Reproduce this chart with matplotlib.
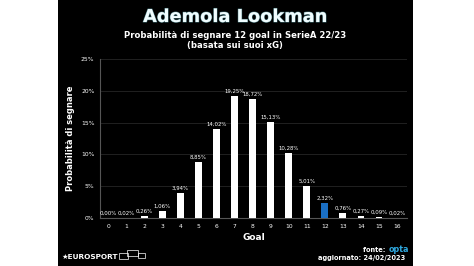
import matplotlib
matplotlib.use("Agg")
import matplotlib.pyplot as plt
from matplotlib.patches import Rectangle
import matplotlib.patheffects as pe

goals = list(range(17))
probs = [0.00, 0.02, 0.26, 1.06, 3.94, 8.85, 14.02, 19.25, 18.72, 15.13,
         10.28, 5.01, 2.32, 0.76, 0.27, 0.09, 0.02]
highlight = 12
yticks = [0, 5, 10, 15, 20, 25]

W, H = 474, 266
fig = plt.figure(figsize=(W / 100, H / 100), dpi=100, facecolor="white")
bg = fig.add_axes([58 / W, 0, (413 - 58) / W, 1], zorder=-5)
bg.set_facecolor("black")
bg.set_axis_off()
bg.add_patch(Rectangle((0, 0), 1, 1, transform=bg.transAxes, facecolor="black",
                       edgecolor="none"))

ax = fig.add_axes([100 / W, (266 - 218) / H, (407 - 100) / W, (218 - 59) / H], zorder=1)
ax.set_facecolor("black")
colors = ["#1a6fc4" if g == highlight else "white" for g in goals]
ax.bar(goals, probs, width=0.38, color=colors, zorder=3)
for g, p in zip(goals, probs):
    ax.text(g, p + 0.35, f"{p:.2f}%".replace(".", ","), ha="center", va="bottom",
            color="white", fontsize=3.9, zorder=4)

ax.set_xlim(-0.45, 16.55)
ax.set_ylim(0, 25)
ax.set_yticks(yticks)
ax.set_yticklabels([f"{t}%" for t in yticks], color="white", fontsize=4.3)
ax.set_xticks(goals)
ax.set_xticklabels([str(g) for g in goals], color="white", fontsize=4.3)
ax.tick_params(length=0, pad=4)
ax.grid(axis="y", color="#262626", linewidth=0.6, zorder=0)
for s in ["top", "right"]:
    ax.spines[s].set_visible(False)
for s in ["left", "bottom"]:
    ax.spines[s].set_color("#555555")
    ax.spines[s].set_linewidth(0.8)
ax.set_xlabel("Goal", color="white", fontsize=6.5, fontweight="bold", labelpad=3)
ax.set_ylabel("Probabilità di segnare", color="white", fontsize=6, fontweight="bold", labelpad=4)

fig.text(235 / W, 1 - 17 / H, "Ademola Lookman", ha="center", va="center", color="#f0fdff",
         fontsize=12.8, fontweight="bold",
         path_effects=[pe.withStroke(linewidth=0.8, foreground="#7fd8e3", alpha=0.45)])
fig.text(235 / W, 1 - 35 / H, "Probabilità di segnare 12 goal in SerieA 22/23",
         ha="center", va="center", color="white", fontsize=6.1, fontweight="bold")
fig.text(235 / W, 1 - 46 / H, "(basata sui suoi xG)",
         ha="center", va="center", color="white", fontsize=6.1, fontweight="bold")

fig.text(62 / W, 1 - 257 / H, "★EUROSPORT", ha="left", va="center", color="white",
         fontsize=5.3, fontweight="bold")
for (x0, y0, w, h) in [(119, 253, 9, 6), (127, 250, 11, 6), (138, 253, 7, 5)]:
    fig.patches.append(Rectangle((x0 / W, 1 - (y0 + h) / H), w / W, h / H,
                                 transform=fig.transFigure, facecolor="none",
                                 edgecolor="white", linewidth=0.5, zorder=5))

fig.text(388 / W, 1 - 250 / H, "fonte: ", ha="right", va="center", color="white",
         fontsize=4.8, fontweight="bold")
fig.text(389 / W, 1 - 250 / H, "opta", ha="left", va="center", color="#2fa9e0",
         fontsize=5.8, fontweight="bold")
fig.text(405 / W, 1 - 258 / H, "aggiornato: 24/02/2023", ha="right", va="center",
         color="white", fontsize=4.8, fontweight="bold")

fig.savefig("out.png", dpi=100, facecolor="white")
